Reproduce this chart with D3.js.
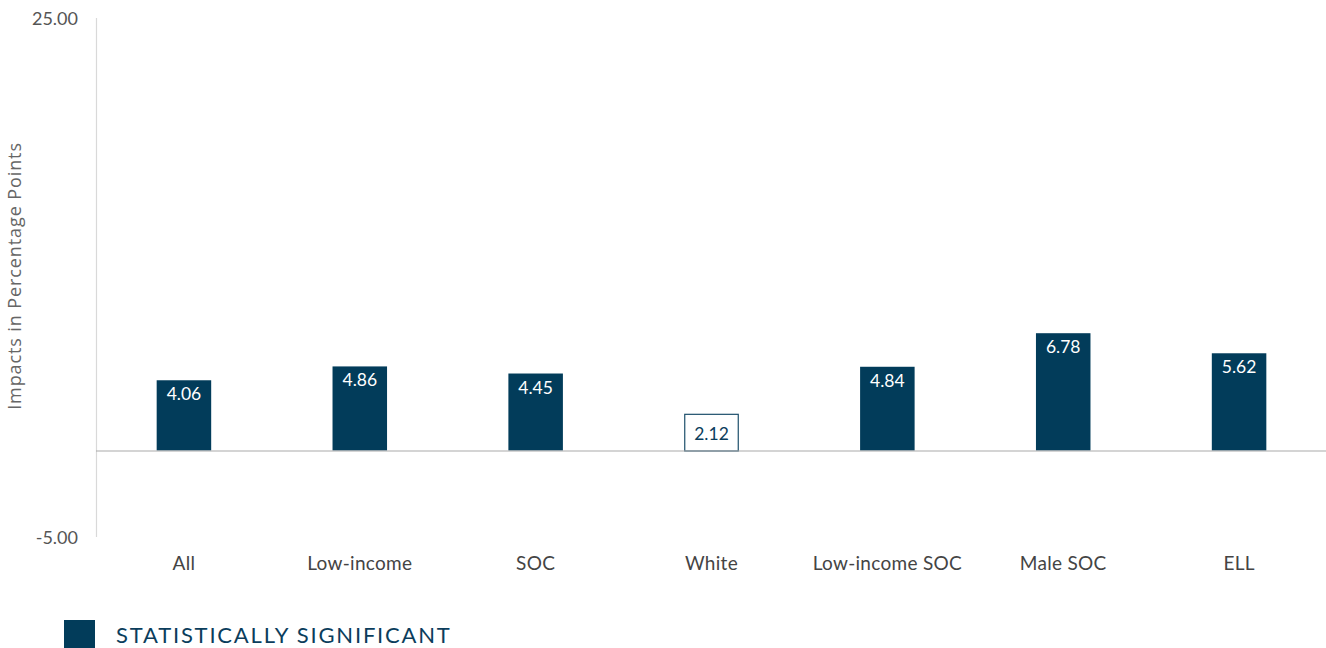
<!DOCTYPE html>
<html><head><meta charset="utf-8">
<script src="https://cdn.jsdelivr.net/npm/d3@7"></script>
<style>body{margin:0;background:#fff;font-family:Lato,"Open Sans",sans-serif}</style>
</head><body><svg id="c" width="1326" height="648"></svg>
<script>
const categories = ["All","Low-income","SOC","White","Low-income SOC","Male SOC","ELL"];
const values = [4.06,4.86,4.45,2.12,4.84,6.78,5.62];
const significant = [true,true,true,false,true,true,true];
const yTicks = [-5, 25];

const svg = d3.select("#c");
const color = "#023c5a";
const x = d3.scaleBand().domain(categories).range([96,1327]).paddingInner(0.69).paddingOuter(0.345);
const y = d3.scaleLinear().domain([-5,25]).range([537,18]);

// y axis line
svg.append("line").attr("x1",96.5).attr("x2",96.5).attr("y1",y(25)).attr("y2",y(-5)).attr("stroke","#d9d9d9").attr("stroke-width",1.2);

svg.selectAll(".yt").data(yTicks).enter().append("text")
  .attr("x",78).attr("y",d=>y(d)+7).attr("text-anchor","end")
  .attr("font-size",18).attr("fill","#555").text(d=>d3.format(".2f")(d).replace("−","-"));

svg.append("text").attr("transform","translate(21,276) rotate(-90)").attr("text-anchor","middle")
  .attr("font-family","'Open Sans',sans-serif").attr("letter-spacing",0.9)
  .attr("font-size",18).attr("fill","#666").text("Impacts in Percentage Points");

const g = svg.selectAll(".b").data(categories).enter().append("g");
g.append("rect")
  .attr("x",(d,i)=>x(d)+(significant[i]?0:0.5)).attr("width",(d,i)=>x.bandwidth()-(significant[i]?0:1))
  .attr("y",(d,i)=>y(values[i])+(significant[i]?0:0.5)).attr("height",(d,i)=>y(0)-y(values[i]))
  .attr("fill",(d,i)=>significant[i]?color:"#fff")
  .attr("stroke",(d,i)=>significant[i]?"none":"#1d4f6b").attr("stroke-width",1.2);
g.append("text")
  .attr("x",d=>x(d)+x.bandwidth()/2).attr("y",(d,i)=>y(values[i])+ (significant[i]?20:26))
  .attr("text-anchor","middle").attr("font-size",17.5)
  .attr("fill",(d,i)=>significant[i]?"#fff":"#0b3d5c").text((d,i)=>values[i].toFixed(2));

// zero line
svg.append("line").attr("x1",96).attr("x2",1326).attr("y1",y(0)+0.5).attr("y2",y(0)+0.5).attr("stroke","#aaa").attr("stroke-width",1.2);

svg.selectAll(".xl").data(categories).enter().append("text")
  .attr("x",d=>x(d)+x.bandwidth()/2).attr("y",570).attr("text-anchor","middle")
  .attr("font-size",19).attr("letter-spacing",0.3).attr("fill","#444").text(d=>d);

// legend
svg.append("rect").attr("x",64).attr("y",620).attr("width",31).attr("height",28).attr("fill",color);
svg.append("text").attr("x",116).attr("y",643).attr("font-size",22).attr("fill","#0b3d5c")
  .attr("letter-spacing",1.8).text("STATISTICALLY SIGNIFICANT");
</script></body></html>
